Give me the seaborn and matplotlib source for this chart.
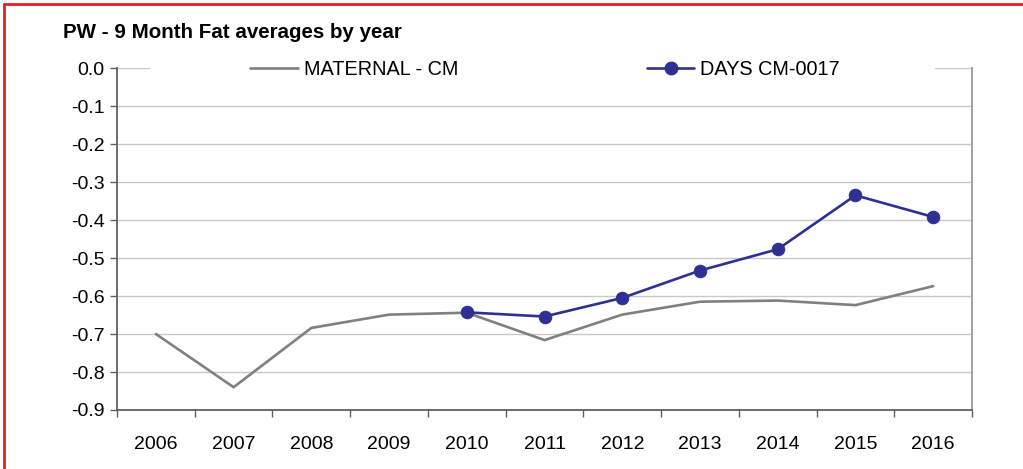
import matplotlib
matplotlib.use("Agg")
import matplotlib.pyplot as plt
import seaborn as sns
import pandas as pd
from matplotlib.patches import Rectangle
from matplotlib.lines import Line2D

# ========== 数据 ==========
years = ['2006', '2007', '2008', '2009', '2010', '2011', '2012', '2013', '2014', '2015', '2016']
maternal_cm = [-0.700, -0.840, -0.684, -0.649, -0.644, -0.716, -0.649, -0.615, -0.612, -0.624, -0.574]
days_years = ['2010', '2011', '2012', '2013', '2014', '2015', '2016']
days_cm_0017 = [-0.643, -0.654, -0.605, -0.533, -0.477, -0.335, -0.392]
y_ticks = [0.0, -0.1, -0.2, -0.3, -0.4, -0.5, -0.6, -0.7, -0.8, -0.9]

title = 'PW - 9 Month Fat averages by year'
label_maternal = 'MATERNAL - CM'
label_days = 'DAYS CM-0017'

grey_line = '#808080'
blue_line = '#2E3192'

sns.set_theme(style='white')
plt.rcParams['font.family'] = ['Liberation Sans', 'DejaVu Sans']
plt.rcParams['text.color'] = 'black'
plt.rcParams['xtick.color'] = 'black'
plt.rcParams['ytick.color'] = 'black'

df_mat = pd.DataFrame({'x': range(len(years)), 'v': maternal_cm})
pos = {y: i for i, y in enumerate(years)}
df_days = pd.DataFrame({'x': [pos[y] for y in days_years], 'v': days_cm_0017})

fig = plt.figure(figsize=(10.23, 4.69), dpi=100)
ax = fig.add_axes([0.1144, 0.1258, 0.8358, 0.7292])

sns.lineplot(data=df_mat, x='x', y='v', ax=ax, color=grey_line, linewidth=1.9, zorder=3)
sns.lineplot(data=df_days, x='x', y='v', ax=ax, color=blue_line, linewidth=1.9,
             marker='o', markersize=9, markeredgecolor=blue_line, zorder=4)

ax.set_xlim(-0.5, len(years) - 0.5)
ax.set_ylim(-0.9, 0.0)

# x 轴：类别标签在中间，刻度线在分界处
ax.set_xticks(range(len(years)))
ax.set_xticklabels(years, fontsize=14)
ax.set_xticks([i - 0.5 for i in range(len(years) + 1)], minor=True)
ax.tick_params(axis='x', which='major', length=0, pad=19, labelcolor='black')
ax.tick_params(axis='x', which='minor', length=5, width=1, color='#606060', direction='out', bottom=True)

ax.set_yticks(y_ticks)
ax.set_yticklabels([f'{t:.1f}' for t in y_ticks], fontsize=14)
ax.tick_params(axis='y', length=5, width=1, color='#606060', direction='out', left=True, pad=4,
               labelcolor='black')

ax.yaxis.grid(True, color='#c8c8c8', linewidth=1)
ax.xaxis.grid(False)
ax.set_axisbelow(True)
ax.set_xlabel('')
ax.set_ylabel('')

for side in ['left', 'bottom']:
    ax.spines[side].set_color('#606060')
    ax.spines[side].set_linewidth(1.3)
ax.spines['right'].set_color('#9a9a9a')
ax.spines['right'].set_linewidth(1.3)
ax.spines['top'].set_visible(False)

# 图例区域遮住顶部网格线
ax.add_patch(Rectangle((0.0386, 0.97), 0.918, 0.06, transform=ax.transAxes,
                       facecolor='white', edgecolor='none', clip_on=False, zorder=2))

handles = [Line2D([], [], color=grey_line, linewidth=1.9),
           Line2D([], [], color=blue_line, linewidth=1.9, marker='o', markersize=9)]
leg = ax.legend(handles, [label_maternal, label_days], ncol=2, mode='expand',
                loc='center', bbox_to_anchor=(0.1556, 0.995, 0.690, 0.0),
                frameon=False, fontsize=14.3, handlelength=2.4, handletextpad=0.3,
                borderpad=0, borderaxespad=0)
for t in leg.get_texts():
    t.set_color('black')

fig.text(63 / 1023, 1 - 32 / 469, title, fontsize=14.8, fontweight='bold', va='center', ha='left',
         color='black')

# 红色外框（左、上）
fig.add_artist(Line2D([4 / 1023, 4 / 1023], [0, 1 - 4 / 469], transform=fig.transFigure,
                      color='#ED1C24', linewidth=2))
fig.add_artist(Line2D([4 / 1023, 1], [1 - 4 / 469, 1 - 4 / 469], transform=fig.transFigure,
                      color='#ED1C24', linewidth=2))

plt.savefig('out.png', dpi=100)
